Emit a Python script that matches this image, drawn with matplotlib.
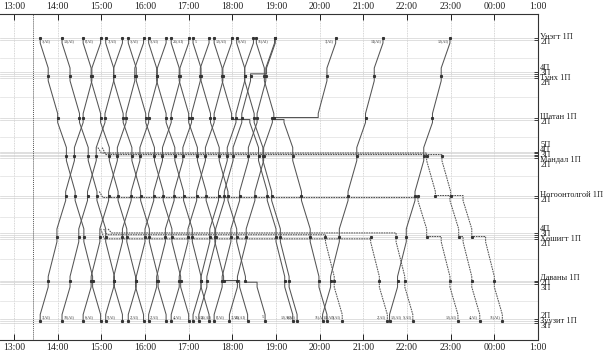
import matplotlib
matplotlib.use("Agg")
import matplotlib.pyplot as plt

plt.rcParams['font.family'] = ['Liberation Serif', 'DejaVu Serif']

# ---------------- data ----------------
station_names = ["Унэгт", "Түнх", "Шатан", "Мандал", "Ногоонтолгой", "Хөшигт", "Даваны", "Зуузит"]
station_pos = [0, 38, 79.5, 118, 157.5, 198.5, 242.5, 282.5]
station_tracks = [
    [("1П", 0), ("2П", 2)],
    [("4П", -4), ("3П", -2.2), ("1П", 0), ("2П", 1.8)],
    [("1П", 0), ("2П", 2)],
    [("5П", -4.5), ("4П", -3), ("3П", -1.5), ("1П", 0), ("2П", 1.6)],
    [("1П", 0), ("2П", 2)],
    [("4П", -3.6), ("3П", -1.8), ("1П", 0), ("2П", 2.3)],
    [("1П", 0), ("2П", 1.7), ("3П", 3.5)],
    [("2П", -2), ("1П", 0), ("3П", 2)],
]
hour_ticks = [13, 14, 15, 16, 17, 18, 19, 20, 21, 22, 23, 24, 25]
hour_labels = ["13:00", "14:00", "15:00", "16:00", "17:00", "18:00", "19:00",
               "20:00", "21:00", "22:00", "23:00", "00:00", "1:00"]
now_time = "13:26"

# running minutes from the origin station
down_profile = [0, 11, 24, 36, 48, 60, 72, 83]   # Унэгт -> Зуузит
up_profile = [0, 11, 23, 35, 47, 59, 71, 83]     # Зуузит -> Унэгт

# passenger trains: (label, start, waits {station index: (minutes, track offset)})
down_trains = [
    ("1(AI)", "13:36", {}),
    ("13(AI)", "14:06", {}),
    ("8(AI)", "14:35", {}),
    ("7(AI)", "15:06", {}),
    ("1(AI)", "15:37", {}),
    ("5(AI)", "16:05", {}),
    ("25(AI)", "16:36", {6: (22, 0)}),
    ("5", "17:06", {6: (16, 1.7)}),
    ("12(AI)", "17:35", {2: (25, 2)}),
    ("6(AI)", "18:06", {}),
    ("11(AI)", "18:33", {2: (14, 2)}),
]
up_trains = [
    ("3(AI)", "13:36", {}),
    ("10(AI)", "14:06", {}),
    ("6(AI)", "14:35", {}),
    ("9(AI)", "15:06", {}),
    ("2(AI)", "15:37", {}),
    ("2(AI)", "16:05", {}),
    ("4(AI)", "16:36", {}),
    ("5(AI)", "17:06", {}),
    ("25(AI)", "17:14", {1: (22, -2.2)}),
    ("8(AI)", "17:35", {}),
    ("3(AI)", "17:56", {2: (63, 0)}),
    ("14(AI)", "20:04", {}),
    ("12(AI)", "21:36", {}),
]
# freight trains standing at a station, then running down:
# (label, station index, track offset, arrive, depart, later waits)
freight_down = [
    ("5(AI)", 5, -1.8, "15:08", "20:08", {}),
    ("2(AI)", 5, 2.3, "15:04", "21:10", {}),
    ("5(AI)", 5, -3.6, "15:14", "21:45", {}),
    ("12(AI)", 4, 2, "15:02", "22:15", {5: (20, 0)}),
    ("4(AI)", 3, -3, "15:00", "22:27", {4: (20, 0), 5: (6, 0)}),
    ("11(AI)", 3, -1.5, "15:06", "22:48", {4: (17, 0), 5: (19, 0)}),
]


def tmin(s):
    h, m = s.split(":")
    return int(h) * 60 + int(m)


def zone(si):
    offs = [o for _, o in station_tracks[si]]
    y0 = station_pos[si]
    return y0 + min(offs) - 4, y0 + max(offs) + 3


def build_path(start, direction, waits, first=0):
    if direction == "down":
        order = list(range(8))
        prof = down_profile
    else:
        order = list(range(7, -1, -1))
        prof = up_profile
    xs, ys, mx, my = [], [], [], []
    extra = 0
    for k in range(first, 8):
        si = order[k]
        t = start + prof[k] - prof[first] + extra
        y0 = station_pos[si]
        top, bot = zone(si)
        ent, ext = (top, bot) if direction == "down" else (bot, top)
        w, tro = waits.get(si, (0, 0))
        mx.append(t)
        my.append(y0)
        if k == first:
            xs += [t, t]
            ys += [y0, ext]
        elif k == 7:
            xs += [t, t]
            ys += [ent, y0]
        elif w:
            xs += [t, t, t + w, t + w]
            ys += [ent, y0 + tro, y0 + tro, ext]
        else:
            xs += [t, t]
            ys += [ent, ext]
        extra += w
    return [x / 60 for x in xs], ys, [x / 60 for x in mx], my


fig = plt.figure(figsize=(6.05, 3.59), dpi=100)
ax = fig.add_axes([0.0, 0.0529, 538 / 605, 0.908])
ax.set_xlim(13 - 14 / 43.67, 25)
ax.set_ylim(302, -24)

# grid
for h in hour_ticks:
    ax.axvline(h, color="#c8c8c8", lw=0.6, ls=(0, (1, 1)), zorder=0)
for si, tr in enumerate(station_tracks):
    for _, o in tr:
        ax.axhline(station_pos[si] + o, color="#d2d2d2", lw=0.5, zorder=0)
for a, b in zip(station_pos[:-1], station_pos[1:]):
    ax.axhline((a + b) / 2 + 0.5, color="#e0e0e0", lw=0.5, zorder=0)
ax.axvline(tmin(now_time) / 60, color="#555555", lw=0.7, ls=(0, (1, 1)), zorder=1)

line_color = "#555555"
top_y, bot_y = 3.5, 279
lab_kw = dict(fontsize=3, color="#333333", va="center")

for lab, st, w in down_trains:
    xs, ys, mx, my = build_path(tmin(st), "down", w)
    ax.plot(xs, ys, color=line_color, lw=0.75, zorder=3)
    ax.plot(mx, my, "s", ms=1.2, color="#333333", zorder=4)
    ax.text(xs[0] + 0.035, top_y, lab, ha="left", **lab_kw)
    if xs[-1] >= 18:
        ax.text(xs[-1] - 0.035, bot_y, lab, ha="right", **lab_kw)

for lab, st, w in up_trains:
    xs, ys, mx, my = build_path(tmin(st), "up", w)
    ax.plot(xs, ys, color=line_color, lw=0.75, zorder=3)
    ax.plot(mx, my, "s", ms=1.2, color="#333333", zorder=4)
    ax.text(xs[0] + 0.035, bot_y, lab, ha="left", **lab_kw)
    if xs[-1] >= 19:
        ax.text(xs[-1] - 0.035, top_y, lab, ha="right", **lab_kw)

for lab, si, tro, arr, dep, w in freight_down:
    xs, ys, mx, my = build_path(tmin(dep), "down", w, first=si)
    y0 = station_pos[si] + tro
    top, bot = zone(si)
    t0 = tmin(arr) / 60
    xs = [t0 - 0.08, t0, xs[0]] + xs[1:]
    ys = [top, y0, y0] + ys[1:]
    ax.plot(xs, ys, color=line_color, lw=0.75, ls=(0, (1.6, 0.8)), zorder=2)
    ax.plot(mx, my, "s", ms=1.2, color="#333333", zorder=4)
    ax.text(xs[-1] - 0.035, bot_y, lab, ha="right", **lab_kw)

# axes styling
ax.spines["left"].set_visible(False)
for s in ["top", "bottom", "right"]:
    ax.spines[s].set_color("#333333")
    ax.spines[s].set_linewidth(0.8)
ax.set_xticks(hour_ticks)
ax.set_xticklabels(hour_labels)
ax.tick_params(axis="x", direction="in", top=True, bottom=True, labeltop=True,
               labelbottom=True, length=4, width=0.7, labelsize=7, pad=2, colors="#222222")

yt = []
for si, tr in enumerate(station_tracks):
    for _, o in tr:
        yt.append(station_pos[si] + o)
ax.set_yticks(yt)
ax.set_yticklabels([])
ax.tick_params(axis="y", direction="in", left=False, right=True, length=3, width=0.5)

# right-side labels, stacked around the group centre
for si, tr in enumerate(station_tracks):
    offs = [o for _, o in tr]
    centre = station_pos[si] + (min(offs) + max(offs)) / 2 + 0.8
    n = len(tr)
    for k, (nm, o) in enumerate(tr):
        txt = f"{station_names[si]} {nm}" if nm == "1П" else nm
        y = centre + (k - (n - 1) / 2) * 5.0
        ax.text(25.05, y, txt, fontsize=6, va="center", ha="left", color="#222222",
                clip_on=False)

fig.savefig("out.png", dpi=100)
